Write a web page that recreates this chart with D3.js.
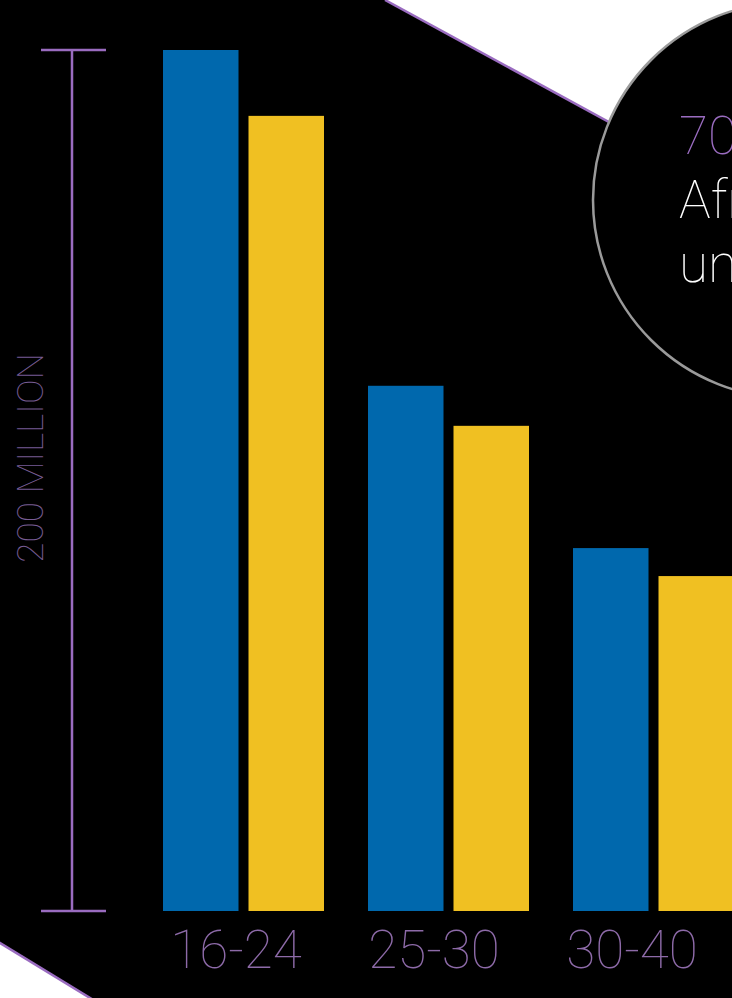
<!DOCTYPE html>
<html><head><meta charset="utf-8">
<script src="https://cdn.jsdelivr.net/npm/d3@7"></script>
<style>
html,body{margin:0;padding:0;background:#000;overflow:hidden}
svg{display:block}
text{font-family:Roboto,"Noto Sans",sans-serif}
</style></head>
<body><svg id="c" width="732" height="998"></svg>
<script>
const categories = ["16-24", "25-30", "30-40"];
const series = ["A", "B"];
const seriesA = [200, 122.0, 84.3];
const seriesB = [184.7, 112.7, 77.8];
const axisMax = 200;
const axisLabel = "200 MILLION";
const calloutLines = ["70% of", "Africa's population", "under 30"];

const W = 732, H = 998;
const svg = d3.select("#c");
const purple = "#9a6cc0";
const blue = "#0068ad";
const yellow = "#f0c022";

svg.append("rect").attr("width", W).attr("height", H).attr("fill", "#000");

// top-right white wedge
svg.append("path").attr("d", "M385,0 L820,0 L820,237 Z").attr("fill", "#fff");
svg.append("line").attr("x1", 385).attr("y1", 0).attr("x2", 640).attr("y2", 139)
  .attr("stroke", purple).attr("stroke-width", 2.5);
// bottom-left white wedge
svg.append("path").attr("d", "M0,943 L90,998 L0,998 Z").attr("fill", "#fff");
svg.append("line").attr("x1", -5).attr("y1", 940).attr("x2", 95).attr("y2", 1001)
  .attr("stroke", purple).attr("stroke-width", 2.5);

const y0 = 911, y1 = 50;
const y = d3.scaleLinear().domain([0, axisMax]).range([y0, y1]);
const x = d3.scaleBand().domain(categories).range([163, 734]).paddingInner(44/205).paddingOuter(0);
const xs = d3.scaleBand().domain(series).range([0, x.bandwidth()]).paddingInner(0.117).paddingOuter(0);
const xl = d3.scalePoint().domain(categories).range([236, 632]);

const data = categories.map((c, i) => ({c, vals: [seriesA[i], seriesB[i]]}));
const g = svg.append("g");
g.selectAll("g.grp").data(data).join("g").attr("class", "grp")
  .attr("transform", d => `translate(${x(d.c)},0)`)
  .selectAll("rect").data(d => d.vals.map((v, j) => ({v, s: series[j]})))
  .join("rect")
  .attr("x", d => xs(d.s)).attr("width", xs.bandwidth())
  .attr("y", d => y(d.v)).attr("height", d => y(0) - y(d.v))
  .attr("fill", d => d.s === "A" ? blue : yellow);

// category labels
svg.selectAll("text.cat").data(categories).join("text").attr("class", "cat")
  .attr("x", d => xl(d)).attr("y", 968)
  .attr("text-anchor", "middle").attr("font-size", 53).attr("font-weight", 100)
  .attr("fill", "#8d6aa8").text(d => d);

// scale bar
const ax = 72;
svg.append("line").attr("x1", ax).attr("x2", ax).attr("y1", y(axisMax)).attr("y2", y(0))
  .attr("stroke", purple).attr("stroke-width", 2.5);
[axisMax, 0].forEach(v => {
  svg.append("line").attr("x1", 41).attr("x2", 106).attr("y1", y(v)).attr("y2", y(v))
    .attr("stroke", purple).attr("stroke-width", 2.5);
});
svg.append("text").attr("transform", `translate(43,458) rotate(-90)`)
  .attr("text-anchor", "middle").attr("font-size", 37).attr("font-weight", 100)
  .attr("fill", "#775c93").text(axisLabel);

// callout circle
svg.append("circle").attr("cx", 791).attr("cy", 200).attr("r", 198)
  .attr("fill", "#000").attr("stroke", "#9a9a9a").attr("stroke-width", 2.5);
const lineColors = [purple, "#fff", "#fff"];
const baselines = [154, 218, 282];
calloutLines.forEach((t, i) => {
  svg.append("text").attr("x", 679).attr("y", baselines[i]).attr("font-size", 53)
    .attr("font-weight", 100).attr("fill", lineColors[i]).text(t);
});
</script></body></html>
